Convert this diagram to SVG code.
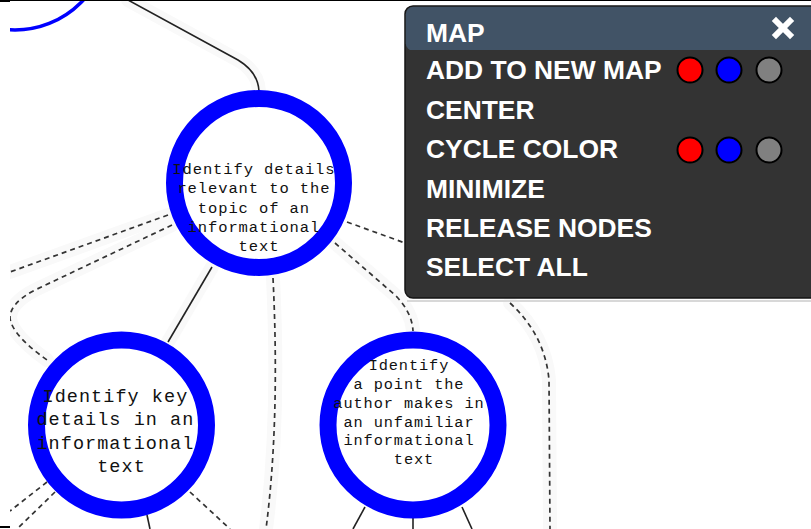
<svg xmlns="http://www.w3.org/2000/svg" width="811" height="529" viewBox="0 0 811 529">
<defs>
<style>
.halo{fill:none;stroke:#f9f9f9;stroke-width:14;stroke-linecap:round}
.solid{fill:none;stroke:#222;stroke-width:1.6}
.dash{fill:none;stroke:#333;stroke-width:1.7;stroke-dasharray:5 4}
.ring{fill:#fff;stroke:#0000ff;stroke-width:17}
.ntext{font-family:"Liberation Mono","Courier New",monospace;fill:#111;text-anchor:middle}
.menu{font-family:"Liberation Sans",Arial,sans-serif;font-weight:bold;font-size:26.4px;fill:#fff}
.dot{stroke:#000;stroke-width:2}
</style>
<clipPath id="canvas"><rect x="10" y="1" width="801" height="528"/></clipPath>
<clipPath id="hdr"><rect x="405" y="6" width="420" height="44"/></clipPath>
</defs>
<rect x="0" y="0" width="811" height="529" fill="#fff"/>
<g clip-path="url(#canvas)">
<g id="connectors">
<g class="halo">
<path d="M128,0 L238,60 Q258,72 259,91"/>
<path d="M212,267 L168,342"/>
<path d="M168,215 L10,272"/>
<path d="M172,225 L35,290 Q10,303 10,318 Q12,335 47,360"/>
<path d="M273,278 Q280,420 266,529"/>
<path d="M335,243 L395,295 Q412,312 413,331"/>
<path d="M510,303 Q545,335 549,380 L550,529"/>
</g>
<path class="solid" d="M128,0 L238,60 Q258,72 259,91"/>
<path class="solid" d="M212,267 L168,342"/>
<path class="solid" d="M147,515 L150,529"/>
<path class="solid" d="M365,507 L353,529"/>
<path class="solid" d="M462,507 L472,529"/>
<path class="solid" d="M413,518 L413,529"/>
<path class="dash" d="M168,215 L10,272"/>
<path class="dash" d="M172,225 L35,290 Q10,303 10,318 Q12,335 47,360"/>
<path class="dash" d="M347,222 L405,243"/>
<path class="dash" d="M335,243 L395,295 Q412,312 413,331"/>
<path class="dash" d="M273,278 Q280,420 266,529"/>
<path class="dash" d="M510,303 Q545,335 549,380 L550,529"/>
<path class="dash" d="M47,482 L10,511"/>
<path class="dash" d="M55,492 L17,529"/>
<path class="dash" d="M190,492 L230,529"/>
</g>
<g id="node-top">
<circle cx="15" cy="-63" r="93" fill="#fff" stroke="#0000ff" stroke-width="3.5"/>
</g>
<g id="node-1">
<circle class="ring" cx="259" cy="183" r="84.5"/>
<text class="ntext" font-size="15.5" letter-spacing="0.9">
<tspan x="259" y="174">Identify details</tspan>
<tspan x="259" y="193">relevant to the</tspan>
<tspan x="259" y="212.5">topic of an</tspan>
<tspan x="259" y="231.5">informational</tspan>
<tspan x="259" y="250.5">text</tspan>
</text>
</g>
<g id="node-2">
<circle class="ring" cx="121.5" cy="425" r="85"/>
<text class="ntext" font-size="18.5" letter-spacing="1.05">
<tspan x="121.5" y="401.5">Identify key</tspan>
<tspan x="121.5" y="425">details in an</tspan>
<tspan x="121.5" y="448.5">informational</tspan>
<tspan x="121.5" y="472">text</tspan>
</text>
</g>
<g id="node-3">
<circle class="ring" cx="413" cy="425" r="85"/>
<text class="ntext" font-size="15.3" letter-spacing="0.9">
<tspan x="414" y="370">Identify</tspan>
<tspan x="414" y="389">a point the</tspan>
<tspan x="414" y="407.5">author makes in</tspan>
<tspan x="414" y="426.5">an unfamiliar</tspan>
<tspan x="414" y="445">informational</tspan>
<tspan x="414" y="464">text</tspan>
</text>
</g>
</g>
<g id="menu-panel">
<rect x="407" y="300" width="410" height="2" fill="#d8d8d8"/>
<rect x="405" y="6" width="420" height="292" rx="8" fill="#333333" stroke="#151515" stroke-width="1.5"/>
<rect x="405.75" y="6.75" width="418" height="44" rx="7.5" fill="#415366" clip-path="url(#hdr)"/>
<text class="menu" x="426" y="42">MAP</text>
<path d="M776,21 L790,35 M790,21 L776,35" stroke="#fff" stroke-width="6" stroke-linecap="square"/>
<text class="menu" x="426" y="79">ADD TO NEW MAP</text>
<text class="menu" x="426" y="119">CENTER</text>
<text class="menu" x="426" y="158">CYCLE COLOR</text>
<text class="menu" x="426" y="197.5">MINIMIZE</text>
<text class="menu" x="426" y="237">RELEASE NODES</text>
<text class="menu" x="426" y="276">SELECT ALL</text>
<circle class="dot" cx="690" cy="70" r="12.5" fill="#ff0000"/>
<circle class="dot" cx="729" cy="70" r="12.5" fill="#0000ff"/>
<circle class="dot" cx="769" cy="70" r="12.5" fill="#808080"/>
<circle class="dot" cx="690" cy="150" r="12.5" fill="#ff0000"/>
<circle class="dot" cx="729" cy="150" r="12.5" fill="#0000ff"/>
<circle class="dot" cx="769" cy="150" r="12.5" fill="#808080"/>
</g>
<rect x="0" y="0" width="811" height="1" fill="#000"/>
<rect x="0" y="0" width="10" height="2" fill="#000"/>
<rect x="0" y="526" width="10" height="2" fill="#000"/>
</svg>
